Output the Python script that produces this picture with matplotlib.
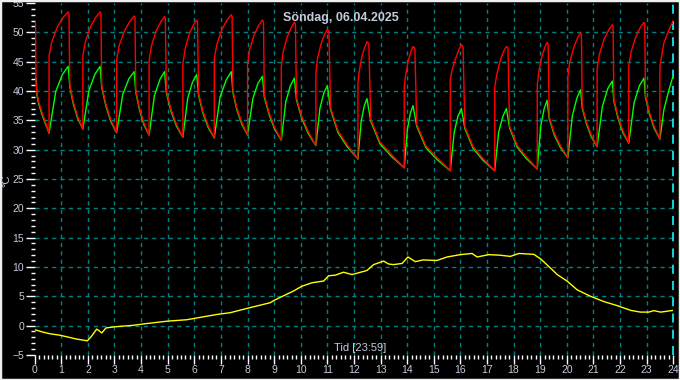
import matplotlib
matplotlib.use("Agg")
import matplotlib.pyplot as plt
from matplotlib.ticker import MultipleLocator
from matplotlib.patches import Rectangle

plt.rcParams['font.family'] = ['Liberation Sans', 'DejaVu Sans']

title = "Söndag, 06.04.2025"
xlabel = "Tid [23:59]"
ylabel = "°C"

# tur (rod) - (timme, grader)
red = [
    (0.00, 52.0), (0.03, 51.6), (0.05, 41.8), (0.08, 39.8), (0.14, 38.3), (0.26, 36.5), (0.39, 34.9), (0.54, 32.8),
    (0.54, 46.0), (0.65, 48.5), (0.86, 51.0), (1.08, 52.6), (1.26, 53.5),
    (1.29, 53.2), (1.32, 41.1), (1.45, 38.1), (1.62, 35.6), (1.81, 33.5),
    (1.81, 46.0), (1.91, 48.5), (2.10, 51.0), (2.30, 52.6), (2.46, 53.5),
    (2.49, 53.2), (2.52, 40.9), (2.68, 37.7), (2.86, 35.1), (3.08, 32.9),
    (3.08, 45.3), (3.18, 47.8), (3.38, 50.3), (3.58, 51.9), (3.74, 52.8),
    (3.77, 52.5), (3.80, 40.1), (3.94, 37.1), (4.10, 34.6), (4.30, 32.5),
    (4.30, 45.2), (4.39, 47.7), (4.56, 50.2), (4.74, 51.8), (4.88, 52.7),
    (4.91, 52.4), (4.95, 40.0), (5.12, 36.9), (5.33, 34.3), (5.57, 32.1),
    (5.57, 44.6), (5.65, 47.1), (5.80, 49.6), (5.96, 51.2), (6.09, 52.1),
    (6.12, 51.8), (6.16, 39.6), (6.32, 36.6), (6.52, 34.1), (6.75, 32.0),
    (6.75, 45.5), (6.85, 48.0), (7.04, 50.5), (7.23, 52.1), (7.39, 53.0),
    (7.42, 52.7), (7.45, 40.1), (7.60, 37.1), (7.79, 34.6), (8.00, 32.5),
    (8.00, 44.6), (8.08, 47.1), (8.25, 49.6), (8.42, 51.2), (8.56, 52.1),
    (8.60, 51.8), (8.63, 39.3), (8.81, 36.3), (9.02, 33.8), (9.27, 31.6),
    (9.27, 44.2), (9.34, 46.7), (9.49, 49.2), (9.64, 50.8), (9.76, 51.7),
    (9.80, 51.4), (9.84, 38.8), (10.04, 35.6), (10.29, 33.0), (10.57, 30.7),
    (10.57, 43.0), (10.63, 45.5), (10.76, 48.0), (10.89, 49.6), (11.00, 50.5),
    (11.06, 50.2), (11.12, 37.2), (11.40, 33.2), (11.75, 30.8), (12.15, 28.4),
    (12.15, 41.4), (12.20, 43.4), (12.30, 45.9), (12.41, 47.5), (12.49, 48.4),
    (12.56, 48.1), (12.63, 35.2), (12.98, 31.3), (13.40, 29.2), (13.89, 26.9),
    (13.89, 40.6), (13.94, 42.6), (14.04, 45.1), (14.14, 46.7), (14.22, 47.6),
    (14.29, 47.3), (14.36, 34.3), (14.71, 30.6), (15.13, 28.6), (15.62, 26.4),
    (15.62, 41.9), (15.68, 43.4), (15.81, 45.4), (15.94, 47.0), (16.04, 47.9),
    (16.10, 47.6), (16.17, 33.9), (16.48, 30.5), (16.85, 28.5), (17.29, 26.4),
    (17.29, 40.6), (17.36, 42.6), (17.49, 45.1), (17.62, 46.7), (17.73, 47.6),
    (17.79, 47.3), (17.85, 34.0), (18.14, 30.7), (18.48, 28.8), (18.89, 26.7),
    (18.89, 41.0), (18.95, 43.3), (19.06, 45.8), (19.17, 47.4), (19.26, 48.3),
    (19.30, 48.0), (19.34, 35.6), (19.53, 32.8), (19.77, 30.6), (20.04, 28.6),
    (20.04, 42.4), (20.11, 44.9), (20.26, 47.4), (20.40, 49.0), (20.52, 49.9),
    (20.55, 49.6), (20.58, 37.4), (20.74, 34.7), (20.92, 32.5), (21.14, 30.5),
    (21.14, 43.8), (21.23, 46.3), (21.40, 48.8), (21.57, 50.4), (21.71, 51.3),
    (21.74, 51.0), (21.77, 38.6), (21.93, 35.6), (22.11, 33.2), (22.33, 31.1),
    (22.33, 44.2), (22.42, 46.7), (22.59, 49.2), (22.76, 50.8), (22.90, 51.7),
    (22.93, 51.4), (22.96, 39.2), (23.11, 36.3), (23.29, 33.9), (23.50, 31.8),
    (23.50, 44.2), (23.65, 48.2), (23.84, 50.4), (24.00, 52.0),
]

# retur (gron)
green = [
    (0.00, 42.5), (0.06, 42.0), (0.08, 39.5), (0.14, 38.0), (0.26, 36.2), (0.39, 34.6), (0.54, 32.8),
    (0.79, 39.9), (1.04, 42.8), (1.26, 44.2), (1.32, 40.8), (1.45, 37.8), (1.62, 35.3), (1.81, 33.5),
    (2.04, 40.1), (2.27, 42.9), (2.46, 44.2), (2.52, 40.6), (2.68, 37.4), (2.86, 34.8), (3.08, 32.9),
    (3.31, 39.4), (3.54, 42.1), (3.74, 43.3), (3.80, 39.8), (3.94, 36.8), (4.10, 34.3), (4.30, 32.5),
    (4.50, 39.2), (4.71, 42.0), (4.88, 43.3), (4.95, 39.7), (5.12, 36.6), (5.33, 34.0), (5.57, 32.1),
    (5.75, 38.7), (5.93, 41.5), (6.09, 42.8), (6.16, 39.3), (6.32, 36.3), (6.52, 33.8), (6.75, 32.0),
    (6.97, 39.0), (7.20, 41.9), (7.39, 43.3), (7.45, 39.8), (7.60, 36.8), (7.79, 34.3), (8.00, 32.5),
    (8.20, 38.7), (8.39, 41.3), (8.56, 42.5), (8.63, 39.0), (8.81, 36.0), (9.02, 33.5), (9.27, 31.6),
    (9.44, 38.2), (9.61, 40.9), (9.76, 42.2), (9.84, 38.5), (10.04, 35.3), (10.29, 32.7), (10.57, 30.7),
    (10.72, 37.0), (10.87, 39.7), (11.00, 40.9), (11.12, 36.9), (11.40, 32.9), (11.75, 30.5), (12.15, 28.4),
    (12.27, 34.8), (12.39, 37.5), (12.49, 38.7), (12.63, 34.9), (12.98, 31.0), (13.40, 28.9), (13.89, 26.9),
    (14.01, 33.5), (14.12, 36.2), (14.22, 37.5), (14.36, 34.0), (14.71, 30.3), (15.13, 28.3), (15.62, 26.4),
    (15.77, 33.0), (15.91, 35.7), (16.04, 37.0), (16.17, 33.6), (16.48, 30.2), (16.85, 28.2), (17.29, 26.4),
    (17.44, 33.0), (17.60, 35.7), (17.73, 37.0), (17.85, 33.7), (18.14, 30.4), (18.48, 28.5), (18.89, 26.7),
    (19.02, 34.0), (19.15, 37.0), (19.26, 38.4), (19.34, 35.3), (19.53, 32.5), (19.77, 30.3), (20.04, 28.6),
    (20.21, 35.8), (20.38, 38.8), (20.52, 40.2), (20.58, 37.1), (20.74, 34.4), (20.92, 32.2), (21.14, 30.5),
    (21.34, 37.4), (21.54, 40.4), (21.71, 41.7), (21.77, 38.3), (21.93, 35.3), (22.11, 32.9), (22.33, 31.1),
    (22.53, 38.0), (22.73, 40.9), (22.90, 42.2), (22.96, 38.9), (23.11, 36.0), (23.29, 33.6), (23.50, 31.8),
    (23.65, 36.8), (23.84, 40.2), (24.00, 42.6),
]

# ute (gul)
yellow = [
    (0.00, -0.7), (0.30, -1.1), (0.58, -1.4), (0.90, -1.6), (1.20, -1.9), (1.58, -2.3), (1.98, -2.6),
    (2.14, -1.8), (2.33, -0.6), (2.40, -0.8), (2.52, -1.25), (2.68, -0.4), (3.02, -0.2), (3.71, 0.05),
    (4.21, 0.35), (4.97, 0.75), (5.72, 1.0), (6.22, 1.4), (6.85, 1.9), (7.35, 2.2), (8.04, 3.0),
    (8.85, 3.9), (9.04, 4.4), (9.73, 5.9), (10.04, 6.7), (10.42, 7.3), (10.86, 7.6), (11.05, 8.5),
    (11.30, 8.6), (11.61, 9.1), (11.93, 8.7), (12.49, 9.4), (12.74, 10.4), (13.12, 11.0), (13.30, 10.5),
    (13.49, 10.4), (13.81, 10.6), (14.03, 11.7), (14.31, 10.9), (14.60, 11.2), (15.12, 11.1), (15.50, 11.7),
    (16.00, 12.1), (16.44, 12.3), (16.63, 11.7), (17.07, 12.1), (17.50, 12.0), (17.88, 11.8), (18.20, 12.3),
    (18.76, 12.15), (19.01, 11.4), (19.39, 9.8), (19.64, 8.7), (20.01, 7.6), (20.39, 6.1), (20.89, 5.0),
    (21.39, 4.1), (21.90, 3.4), (22.40, 2.6), (22.77, 2.3), (23.08, 2.3), (23.27, 2.55), (23.53, 2.3),
    (24.00, 2.6),
]

txtcol = '#c4ccdc'
gridcol = '#008080'

fig = plt.figure(figsize=(6.8, 3.8), dpi=100, facecolor='black')
ax = fig.add_axes([0.051, 0.066, 0.939, 0.926])
ax.set_facecolor('black')

# rutnat
for h in range(1, 24):
    ax.axvline(h, color=gridcol, lw=1, ls=(0, (3, 3)), zorder=1)
for v in range(0, 51, 5):
    ax.axhline(v, color=gridcol, lw=1, ls=(0, (3, 3)), zorder=1)
ax.axvline(24, color='#10e8f0', lw=1.3, ls=(0, (5, 4)), zorder=1, clip_on=False)

ax.plot(*zip(*yellow), color='#ffff00', lw=1.0, zorder=3)
ax.plot(*zip(*green), color='#00ff00', lw=1.0, zorder=3)
ax.plot(*zip(*red), color='#ff0000', lw=1.0, zorder=4)

ax.set_xlim(0, 24)
ax.set_ylim(-5, 55)
ax.set_xticks(range(0, 25))
ax.set_yticks(range(-5, 56, 5))
ax.xaxis.set_minor_locator(MultipleLocator(1 / 6))
ax.yaxis.set_minor_locator(MultipleLocator(1))
for s in ax.spines.values():
    s.set_visible(False)
ax.tick_params(which='major', color='white', labelcolor=txtcol, length=6.5, width=1, labelsize=7.5, pad=1)
ax.tick_params(which='minor', color='white', length=3, width=1)

fig.text(0.502, 0.953, title, color=txtcol, fontsize=9, fontweight='bold', ha='center', va='center')
fig.text(0.529, 0.083, xlabel, color=txtcol, fontsize=8, ha='center', va='center')
fig.text(0.0095, 0.525, ylabel, color=txtcol, fontsize=8, rotation=90, ha='center', va='center')

fig.add_artist(Rectangle((0, 0), 1, 1, transform=fig.transFigure, fill=False,
                         edgecolor='#eeeeee', lw=2.5, clip_on=False))

fig.savefig('out.png', dpi=100, facecolor='black')
